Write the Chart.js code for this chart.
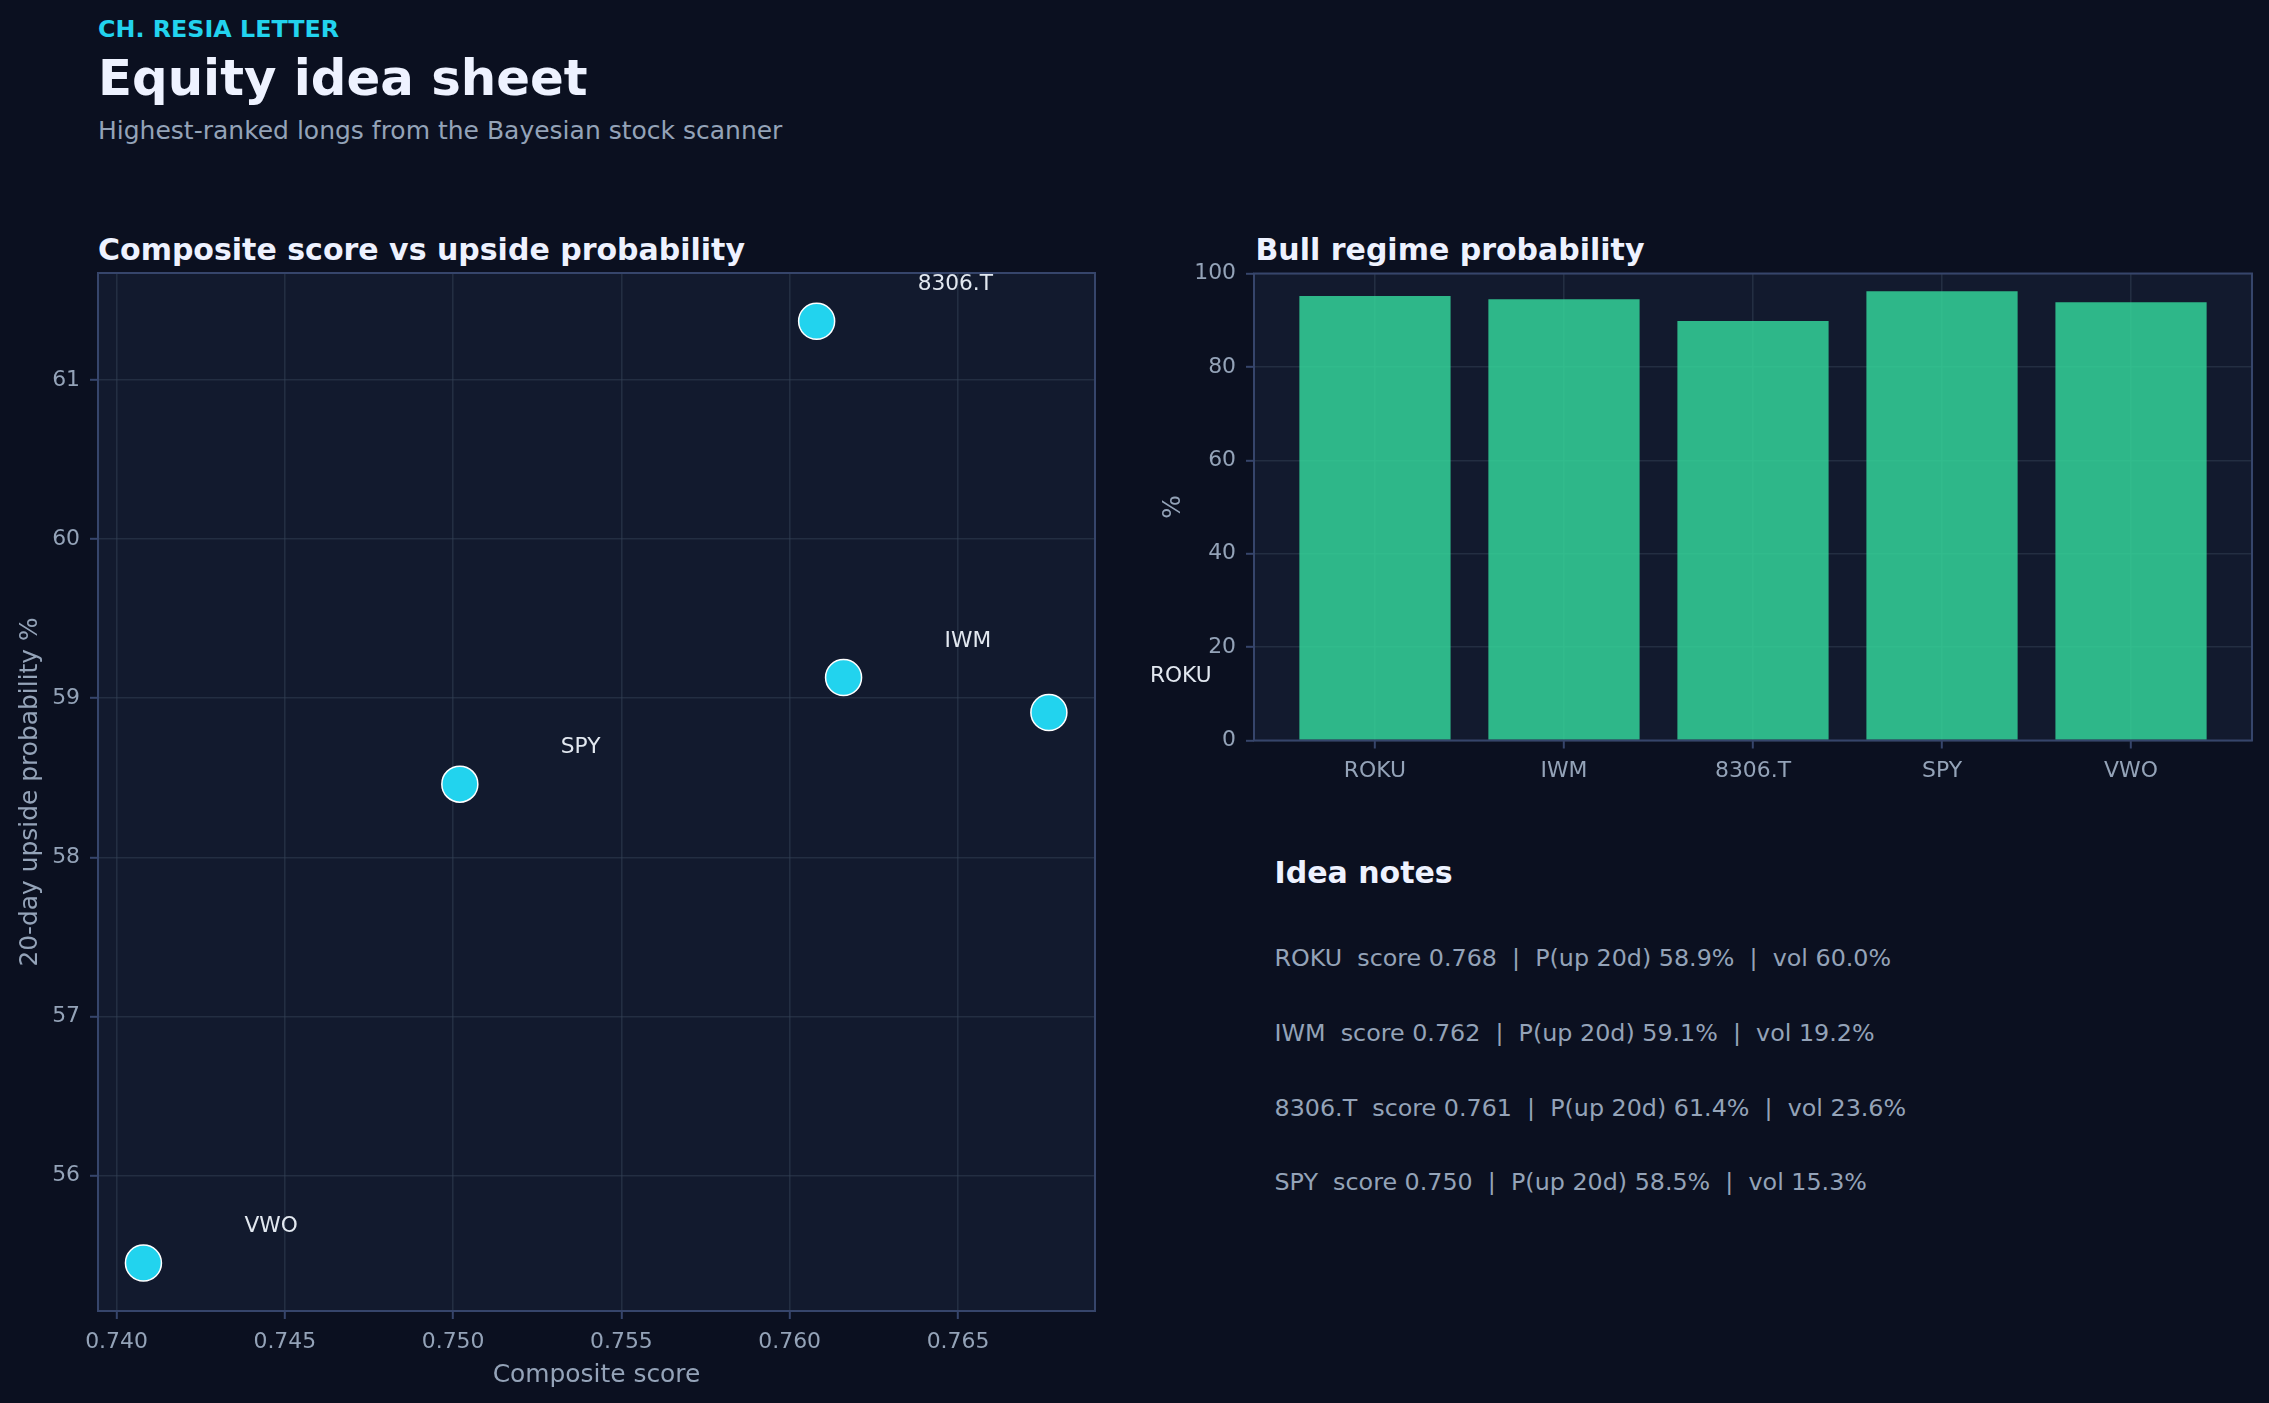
<!DOCTYPE html>
<html>
<head>
<meta charset="utf-8">
<script src="https://cdn.jsdelivr.net/npm/chart.js@4.4.1/dist/chart.umd.min.js"></script>
<style>
  html, body { margin:0; padding:0; background:#0b1020; }
  body { width:2269px; height:1403px; position:relative; overflow:hidden; font-family:"DejaVu Sans", sans-serif; }
  .t { position:absolute; white-space:pre; line-height:1; margin:0; }
  canvas { position:absolute; }
</style>
</head>
<body>
<div class="t" style="left:98px;top:18px;font-size:23.8px;font-weight:bold;color:#22d3ee;">CH. RESIA LETTER</div>
<div class="t" style="left:98px;top:54px;font-size:49.8px;font-weight:bold;color:#eef2ff;">Equity idea sheet</div>
<div class="t" style="left:98px;top:118px;font-size:25px;color:#94a3b8;">Highest-ranked longs from the Bayesian stock scanner</div>
<div class="t" style="left:98px;top:234.5px;font-size:30px;font-weight:bold;color:#eef2ff;">Composite score vs upside probability</div>
<div class="t" style="left:1255.5px;top:235px;font-size:30px;font-weight:bold;color:#eef2ff;">Bull regime probability</div>
<div class="t" style="left:1274.5px;top:857.5px;font-size:30px;font-weight:bold;color:#eef2ff;">Idea notes</div>
<div id="notes"></div>

<canvas id="scatter" width="1250" height="1203" style="left:0;top:200px;width:1250px;height:1203px;"></canvas>
<canvas id="bars" width="1129" height="600" style="left:1140px;top:200px;width:1129px;height:600px;"></canvas>

<script>
// ---- data ----
const tickers = ['ROKU', 'IWM', '8306.T', 'SPY', 'VWO'];
const compositeScore = [0.7677, 0.7616, 0.7608, 0.7502, 0.7408];
const upsideProb = [58.91, 59.13, 61.37, 58.46, 55.45];
const bullProb = [95.2, 94.5, 89.85, 96.2, 93.85];

const scoreTicks = [0.740, 0.745, 0.750, 0.755, 0.760, 0.765];
const probTicks = [56, 57, 58, 59, 60, 61];
const bullTicks = [0, 20, 40, 60, 80, 100];

const noteTickers = ['ROKU', 'IWM', '8306.T', 'SPY'];
const noteScore = [0.768, 0.762, 0.761, 0.750];
const noteUp = [58.9, 59.1, 61.4, 58.5];
const noteVol = [60.0, 19.2, 23.6, 15.3];

// ---- style ----
const FONT = '"DejaVu Sans", sans-serif';
const PLOT_BG = '#121a2e';
const FRAME = '#36456b';
const GRID = 'rgba(51,65,85,0.5)';
const TICK = '#94a3b8';
const LABEL = '#e2e8f0';

// notes text
const notesDiv = document.getElementById('notes');
const noteBaselines = [967.5, 1042.5, 1117, 1191.5];
noteTickers.forEach((t, i) => {
  const d = document.createElement('div');
  d.className = 't';
  d.style.left = '1274.5px';
  d.style.top = (noteBaselines[i] - 0.846 * 23.8) + 'px';
  d.style.fontSize = '23.8px';
  d.style.color = TICK;
  d.textContent = `${t}  score ${noteScore[i].toFixed(3)}  |  P(up 20d) ${noteUp[i].toFixed(1)}%  |  vol ${noteVol[i].toFixed(1)}%`;
  notesDiv.appendChild(d);
});

const framePlugin = {
  id: 'framePlugin',
  beforeDraw(c) {
    const a = c.chartArea, x = c.ctx;
    x.save();
    x.fillStyle = PLOT_BG;
    x.fillRect(a.left, a.top, a.right - a.left, a.bottom - a.top);
    x.restore();
  },
  afterDraw(c) {
    const a = c.chartArea, x = c.ctx;
    x.save();
    x.strokeStyle = FRAME;
    x.lineWidth = 2;
    x.strokeRect(a.left, a.top, a.right - a.left, a.bottom - a.top);
    x.restore();
  }
};

const pointLabels = {
  id: 'pointLabels',
  afterDatasetsDraw(c) {
    const meta = c.getDatasetMeta(0), x = c.ctx;
    x.save();
    x.font = '21.7px ' + FONT;
    x.fillStyle = LABEL;
    x.textAlign = 'left';
    x.textBaseline = 'alphabetic';
    meta.data.forEach((el, i) => {
      x.fillText(tickers[i], el.x + 101, el.y - 31);
    });
    x.restore();
  }
};

const tickFont = { family: FONT, size: 21.9 };
const titleFont = { family: FONT, size: 24.9 };

new Chart(document.getElementById('scatter'), {
  type: 'scatter',
  data: {
    datasets: [{
      data: compositeScore.map((s, i) => ({ x: s, y: upsideProb[i] })),
      backgroundColor: '#22d3ee',
      borderColor: '#ffffff',
      borderWidth: 1.5,
      pointRadius: 18,
      pointHoverRadius: 18
    }]
  },
  options: {
    responsive: false,
    animation: false,
    layout: { padding: { left: 0, top: 73, right: 155, bottom: 0 } },
    plugins: { legend: { display: false }, tooltip: { enabled: false } },
    scales: {
      x: {
        type: 'linear', min: 0.73945, max: 0.76907,
        afterBuildTicks: s => { s.ticks = scoreTicks.map(v => ({ value: v })); },
        afterFit: s => { s.height = 92; },
        ticks: { callback: v => Number(v).toFixed(3), color: TICK, font: tickFont, padding: 10, maxRotation: 0, autoSkip: false },
        grid: { color: GRID, lineWidth: 1.6, tickLength: 8, tickColor: FRAME, tickWidth: 2 },
        border: { display: false },
        title: { display: true, text: 'Composite score', color: TICK, font: titleFont, padding: { top: 0, bottom: 13 } }
      },
      y: {
        type: 'linear', min: 55.148, max: 61.673,
        afterBuildTicks: s => { s.ticks = probTicks.map(v => ({ value: v })); },
        afterFit: s => { s.width = 98; },
        ticks: { callback: v => String(v), color: TICK, font: tickFont, padding: 10, autoSkip: false },
        grid: { color: GRID, lineWidth: 1.6, tickLength: 8, tickColor: FRAME, tickWidth: 2 },
        border: { display: false },
        title: { display: true, text: '20-day upside probability %', color: TICK, font: titleFont, padding: { top: 15.5, bottom: 0 } }
      }
    }
  },
  plugins: [framePlugin, pointLabels]
});

new Chart(document.getElementById('bars'), {
  type: 'bar',
  data: {
    datasets: [{
      data: bullProb.map((v, i) => ({ x: i, y: v })),
      backgroundColor: 'rgba(52,211,153,0.85)',
      borderWidth: 0,
      barPercentage: 0.8,
      categoryPercentage: 1.0
    }]
  },
  options: {
    responsive: false,
    animation: false,
    layout: { padding: { left: 0, top: 73.5, right: 17, bottom: 0 } },
    plugins: { legend: { display: false }, tooltip: { enabled: false } },
    scales: {
      x: {
        type: 'linear', min: -0.64, max: 4.64, z: 1, offset: false,
        afterBuildTicks: s => { s.ticks = tickers.map((t, i) => ({ value: i })); },
        afterFit: s => { s.height = 59.5; },
        ticks: { callback: v => tickers[v], color: TICK, font: tickFont, padding: 10, maxRotation: 0, autoSkip: false },
        grid: { offset: false, color: GRID, lineWidth: 1.6, tickLength: 8, tickColor: FRAME, tickWidth: 2 },
        border: { display: false }
      },
      y: {
        type: 'linear', min: 0, max: 100, z: 1,
        afterBuildTicks: s => { s.ticks = bullTicks.map(v => ({ value: v })); },
        afterFit: s => { s.width = 114; },
        ticks: { callback: v => String(v), color: TICK, font: tickFont, padding: 10, autoSkip: false },
        grid: { color: GRID, lineWidth: 1.6, tickLength: 8, tickColor: FRAME, tickWidth: 2 },
        border: { display: false },
        title: { display: true, text: '%', color: TICK, font: titleFont, padding: { top: 18.5, bottom: 0 } }
      }
    }
  },
  plugins: [framePlugin]
});
</script>
</body>
</html>
